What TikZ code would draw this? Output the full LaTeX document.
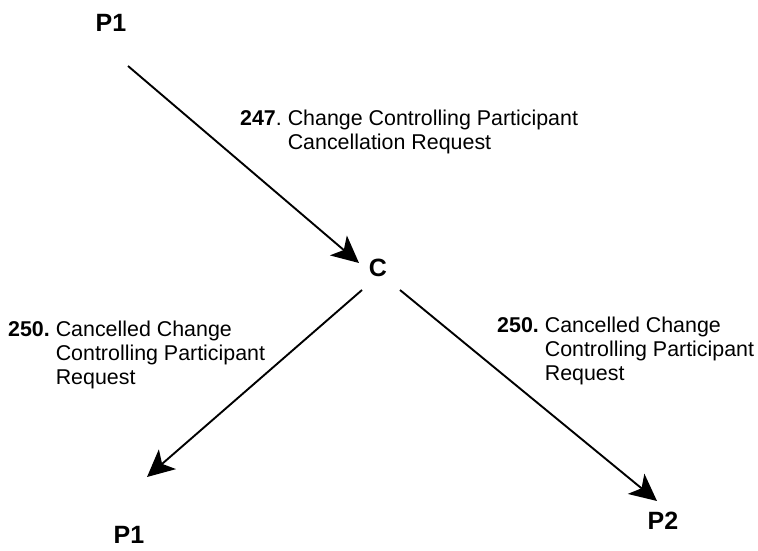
\documentclass[tikz,border=0pt]{standalone}
\usepackage{fontspec}
\setmainfont{Liberation Sans}
\usetikzlibrary{arrows.meta}
\begin{document}
\begin{tikzpicture}[x=1pt,y=-1pt,
  party/.style={font=\fontsize{25}{29}\selectfont\bfseries, inner sep=0pt},
  msg/.style={font=\fontsize{21.4}{24.3}\selectfont, inner sep=0pt, anchor=north west, align=left},
  flow/.style={line width=1.9pt, -{Stealth[length=27pt, width=26pt, inset=7pt]}}]
  \useasboundingbox[fill=white] (0,0) rectangle (758,551);

  % parties
  \node[party] (p1a) at (111,23) {P1};
  \node[party] (c)   at (378,268) {C};
  \node[party] (p1b) at (129,535) {P1};
  \node[party] (p2)  at (663,521) {P2};

  % connector end points next to the parties
  \coordinate (a1s) at (128,66);
  \coordinate (a1e) at (359,263);
  \coordinate (a2s) at (362,290);
  \coordinate (a2e) at (147,477);
  \coordinate (a3s) at (400,290);
  \coordinate (a3e) at (657,501);

  \draw[flow] (a1s) -- (a1e);
  \draw[flow] (a2s) -- (a2e);
  \draw[flow] (a3s) -- (a3e);

  % message labels
  \node[msg] (m247) at (240,108) {\textbf{247}.\ \begin{tabular}[t]{@{}l@{}}Change Controlling Participant\\Cancellation Request\end{tabular}};
  \node[msg] (m250l) at (8,319) {\textbf{250.}\ \begin{tabular}[t]{@{}l@{}}Cancelled Change\\Controlling Participant\\Request\end{tabular}};
  \node[msg] (m250r) at (497,315) {\textbf{250.}\ \begin{tabular}[t]{@{}l@{}}Cancelled Change\\Controlling Participant\\Request\end{tabular}};
\end{tikzpicture}
\end{document}
